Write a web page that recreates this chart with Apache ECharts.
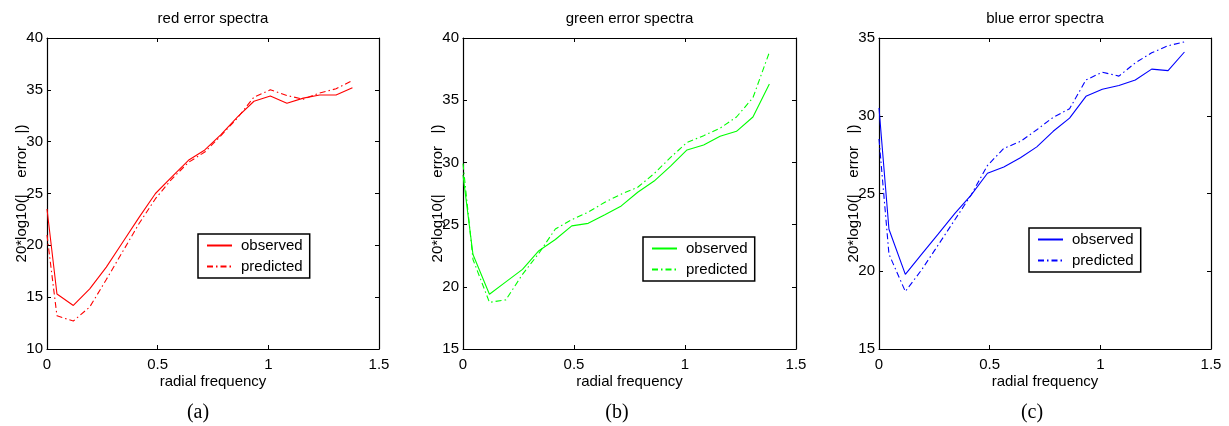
<!DOCTYPE html>
<html><head><meta charset="utf-8">
<script src="https://cdn.jsdelivr.net/npm/echarts@6/dist/echarts.min.js"></script>
<style>
html,body{margin:0;padding:0;background:#fff;width:1229px;height:426px;overflow:hidden}
.p{position:absolute;top:0;height:426px}
</style></head>
<body>
<div id="pa" class="p" style="left:0;width:410px"></div>
<div id="pb" class="p" style="left:410px;width:410px"></div>
<div id="pc" class="p" style="left:820px;width:409px"></div>
<script>
// ---- data ----
const radialFreq = [0, 0.045, 0.119, 0.193, 0.268, 0.342, 0.416, 0.490, 0.564, 0.639, 0.713, 0.787, 0.861, 0.935, 1.009, 1.084, 1.158, 1.232, 1.306, 1.380];

const redObserved   = [23.5, 15.3, 14.2, 15.8, 17.9, 20.3, 22.7, 25.0, 26.6, 28.2, 29.2, 30.7, 32.4, 33.9, 34.4, 33.7, 34.2, 34.5, 34.5, 35.2];
const redPredicted  = [21.0, 13.2, 12.7, 14.05, 16.7, 19.4, 22.1, 24.5, 26.4, 28.0, 29.0, 30.6, 32.3, 34.3, 35.0, 34.45, 34.1, 34.7, 35.1, 35.9];

const greenObserved  = [29.0, 22.6, 19.4, 20.4, 21.4, 22.9, 23.8, 24.9, 25.1, 25.8, 26.5, 27.6, 28.5, 29.7, 31.0, 31.4, 32.1, 32.5, 33.65, 36.3];
const greenPredicted = [29.9, 22.2, 18.75, 18.95, 21.0, 22.7, 24.65, 25.4, 26.0, 26.8, 27.45, 28.0, 29.1, 30.4, 31.6, 32.15, 32.75, 33.65, 35.2, 38.85];

const blueObserved   = [30.5, 22.7, 19.8, 21.1, 22.4, 23.7, 24.9, 26.3, 26.7, 27.3, 28.0, 29.0, 29.85, 31.25, 31.7, 31.95, 32.3, 33.0, 32.9, 34.1];
const bluePredicted  = [28.5, 21.1, 18.7, 20.1, 21.7, 23.3, 24.9, 26.8, 27.9, 28.35, 29.1, 29.9, 30.45, 32.3, 32.8, 32.55, 33.4, 34.05, 34.5, 34.75];

const seriesNames = ['observed', 'predicted'];
const panelTitles = ['red error spectra', 'green error spectra', 'blue error spectra'];
const panelCaptions = ['(a)', '(b)', '(c)'];
const xAxisTitle = 'radial frequency';
const yAxisTitle = '20*log10(|    error   |)';
const xRange = [0, 1.5, 0.5];          // min, max, interval
const yRangeRed = [10, 40, 5];
const yRangeGreen = [15, 40, 5];
const yRangeBlue = [15, 35, 5];

// ---- chart building ----
const SANS = '"Liberation Sans", Arial, Helvetica, sans-serif';
const SERIF = '"Liberation Serif", "DejaVu Serif", serif';
const DASHDOT = [6, 3, 1.5, 3];

function pairs(xs, ys) { return xs.map((x, i) => [x, ys[i]]); }

function buildOption(p) {
  const axisLine = { show: true, onZero: false, lineStyle: { color: '#000', width: 1.2 } };
  const tick = { show: true, inside: true, length: 4, lineStyle: { color: '#000', width: 1 } };
  const plotCx = p.grid.left + (p.width - p.grid.left - p.grid.right) / 2;
  return {
    animation: false,
    backgroundColor: '#fff',
    grid: { left: p.grid.left, right: p.grid.right, top: 38, bottom: 77, containLabel: false },
    xAxis: [
      { type: 'value', position: 'bottom', min: xRange[0], max: xRange[1], interval: xRange[2],
        axisLine, axisTick: tick, splitLine: { show: false },
        axisLabel: { color: '#000', fontSize: 15, fontFamily: SANS, margin: 8 },
        name: xAxisTitle, nameLocation: 'middle', nameGap: 25, nameMoveOverlap: false,
        nameTextStyle: { color: '#000', fontSize: 15, fontFamily: SANS } },
      { type: 'value', position: 'top', min: xRange[0], max: xRange[1], interval: xRange[2],
        axisLine, axisTick: tick, splitLine: { show: false }, axisLabel: { show: false } }
    ],
    yAxis: [
      { type: 'value', position: 'left', min: p.y[0], max: p.y[1], interval: p.y[2],
        axisLine, axisTick: tick, splitLine: { show: false },
        axisLabel: { color: '#000', fontSize: 15, fontFamily: SANS, margin: 4 },
        name: yAxisTitle, nameLocation: 'middle', nameGap: 18, nameRotate: 90, nameMoveOverlap: false,
        nameTextStyle: { color: '#000', fontSize: 15, fontFamily: SANS } },
      { type: 'value', position: 'right', min: p.y[0], max: p.y[1], interval: p.y[2],
        axisLine, axisTick: tick, splitLine: { show: false }, axisLabel: { show: false } }
    ],
    legend: {
      orient: 'vertical', left: p.legend[0], top: p.legend[1],
      data: seriesNames,
      itemWidth: 25, itemHeight: 14, itemGap: 6,
      padding: [4, 7, 4, 8],
      itemStyle: { opacity: 0 },
      backgroundColor: '#fff', borderColor: '#000', borderWidth: 1.5, borderRadius: 0,
      textStyle: { color: '#000', fontSize: 15, fontFamily: SANS, padding: [0, 0, 0, 4] },
      selectedMode: false
    },
    graphic: [
      { type: 'text', x: plotCx, y: 19,
        style: { text: p.title, fill: '#000', font: '15px ' + SANS, textAlign: 'center', textVerticalAlign: 'middle' } },
      { type: 'text', x: p.captionX, y: 413,
        style: { text: p.caption, fill: '#000', font: '20px ' + SERIF, textAlign: 'center', textVerticalAlign: 'middle' } }
    ],
    series: [
      { name: seriesNames[0], type: 'line', symbol: 'none', xAxisIndex: 0, yAxisIndex: 0,
        data: pairs(radialFreq, p.obs), itemStyle: { color: p.color },
        lineStyle: { color: p.color, width: 1.1, type: 'solid' } },
      { name: seriesNames[1], type: 'line', symbol: 'none', xAxisIndex: 0, yAxisIndex: 0,
        data: pairs(radialFreq, p.pred), itemStyle: { color: p.color },
        lineStyle: { color: p.color, width: 1.1, type: DASHDOT } }
    ]
  };
}

const panels = [
  { el: 'pa', width: 410, grid: { left: 47, right: 31 }, y: yRangeRed, legend: [198, 234],
    color: '#ff0000', obs: redObserved, pred: redPredicted, title: panelTitles[0], caption: panelCaptions[0], captionX: 198 },
  { el: 'pb', width: 410, grid: { left: 53, right: 24 }, y: yRangeGreen, legend: [233, 237],
    color: '#00ff00', obs: greenObserved, pred: greenPredicted, title: panelTitles[1], caption: panelCaptions[1], captionX: 207 },
  { el: 'pc', width: 409, grid: { left: 59, right: 18 }, y: yRangeBlue, legend: [209, 228],
    color: '#0000ff', obs: blueObserved, pred: bluePredicted, title: panelTitles[2], caption: panelCaptions[2], captionX: 212 }
];

panels.forEach(p => {
  const chart = echarts.init(document.getElementById(p.el), null, { renderer: 'canvas' });
  chart.setOption(buildOption(p));
});
</script>
</body></html>
